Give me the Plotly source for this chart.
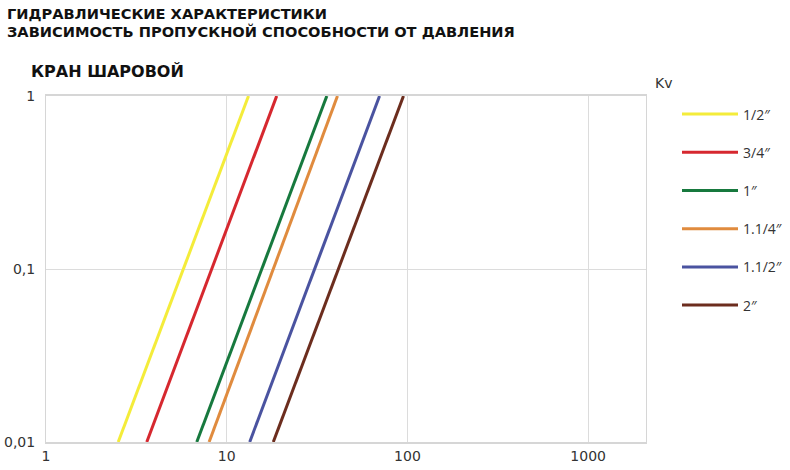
import plotly.graph_objects as go

# Data: each series is a straight line on log-log axes, read at y=0.01 and y=1
names = ["1/2\u2033", "3/4\u2033", "1\u2033", "1.1/4\u2033", "1.1/2\u2033", "2\u2033"]
y_vals = [0.01, 1]
x_half = [2.51, 13.2]
x_three_quarter = [3.61, 18.9]
x_one = [6.83, 35.8]
x_one_quarter = [7.99, 41.0]
x_one_half = [13.4, 70.1]
x_two = [18.1, 95.1]
series_x = [x_half, x_three_quarter, x_one, x_one_quarter, x_one_half, x_two]
colors = ["#f4ec3a", "#d6282f", "#17793e", "#e08b3e", "#4a53a0", "#6c2d1e"]

x_tick_vals = [1, 10, 100, 1000]
x_tick_text = ["1", "10", "100", "1000"]
y_tick_vals = [0.01, 0.1, 1]
y_tick_text = ["0,01", "0,1", "1"]

title_lines = ["ГИДРАВЛИЧЕСКИЕ ХАРАКТЕРИСТИКИ",
               "ЗАВИСИМОСТЬ ПРОПУСКНОЙ СПОСОБНОСТИ ОТ ДАВЛЕНИЯ"]
subtitle = "КРАН ШАРОВОЙ"

font_family = "DejaVu Sans, sans-serif"

W, H = 790, 470
ML, MR, MT, MB = 46, 144, 95.5, 28
PW, PH = W - ML - MR, H - MT - MB


def px(X):  # page pixel -> paper x
    return (X - ML) / PW


def py(Y):  # page pixel -> paper y
    return (H - MB - Y) / PH


fig = go.Figure()
for i, (nm, xs, c) in enumerate(zip(names, series_x, colors)):
    fig.add_trace(go.Scatter(
        x=xs, y=y_vals, mode="lines", name=nm,
        line=dict(color=c, width=3), legendgroup=f"g{i}"))

annotations = [
    dict(text=f"<b>{title_lines[0]}</b>", xref="paper", yref="paper", x=px(5), y=py(12.5),
         xanchor="left", yanchor="middle", showarrow=False, font=dict(size=14.6, color="#111")),
    dict(text=f"<b>{title_lines[1]}</b>", xref="paper", yref="paper", x=px(5), y=py(31),
         xanchor="left", yanchor="middle", showarrow=False, font=dict(size=14.6, color="#111")),
    dict(text=f"<b>{subtitle}</b>", xref="paper", yref="paper", x=px(29), y=py(70.5),
         xanchor="left", yanchor="middle", showarrow=False, font=dict(size=16, color="#111")),
    dict(text="Kv", xref="paper", yref="paper", x=px(653), y=py(82),
         xanchor="left", yanchor="middle", showarrow=False, font=dict(size=14, color="#333")),
]

fig.update_layout(
    width=W, height=H,
    margin=dict(l=ML, r=MR, t=MT, b=MB),
    paper_bgcolor="white", plot_bgcolor="white",
    font=dict(family=font_family, color="#222", size=14),
    showlegend=True,
    legend=dict(xref="container", yref="container", x=677 / W, y=1 - 98.5 / H,
                xanchor="left", yanchor="top",
                tracegroupgap=17, font=dict(size=14, color="#333", family="Open Sans, sans-serif"),
                itemwidth=56, bgcolor="rgba(0,0,0,0)"),
    annotations=annotations,
)
fig.update_xaxes(type="log", range=[0, 3.32], tickvals=x_tick_vals, ticktext=x_tick_text,
                 showgrid=True, gridcolor="#dcdcdc", gridwidth=1,
                 showline=True, linecolor="#d6d6d6", linewidth=2, mirror=True,
                 ticks="", tickfont=dict(size=14, color="#333"), zeroline=False,
                 automargin=False)
fig.update_yaxes(type="log", range=[-2, 0], tickvals=y_tick_vals, ticktext=y_tick_text,
                 showgrid=True, gridcolor="#dcdcdc", gridwidth=1,
                 showline=True, linecolor="#d6d6d6", linewidth=1, mirror=True,
                 ticks="", tickfont=dict(size=14, color="#333"), zeroline=False,
                 ticklabelstandoff=7, automargin=False)

fig.write_html("out.html", config={"displayModeBar": False},
               post_script="document.body.style.margin='0';")
